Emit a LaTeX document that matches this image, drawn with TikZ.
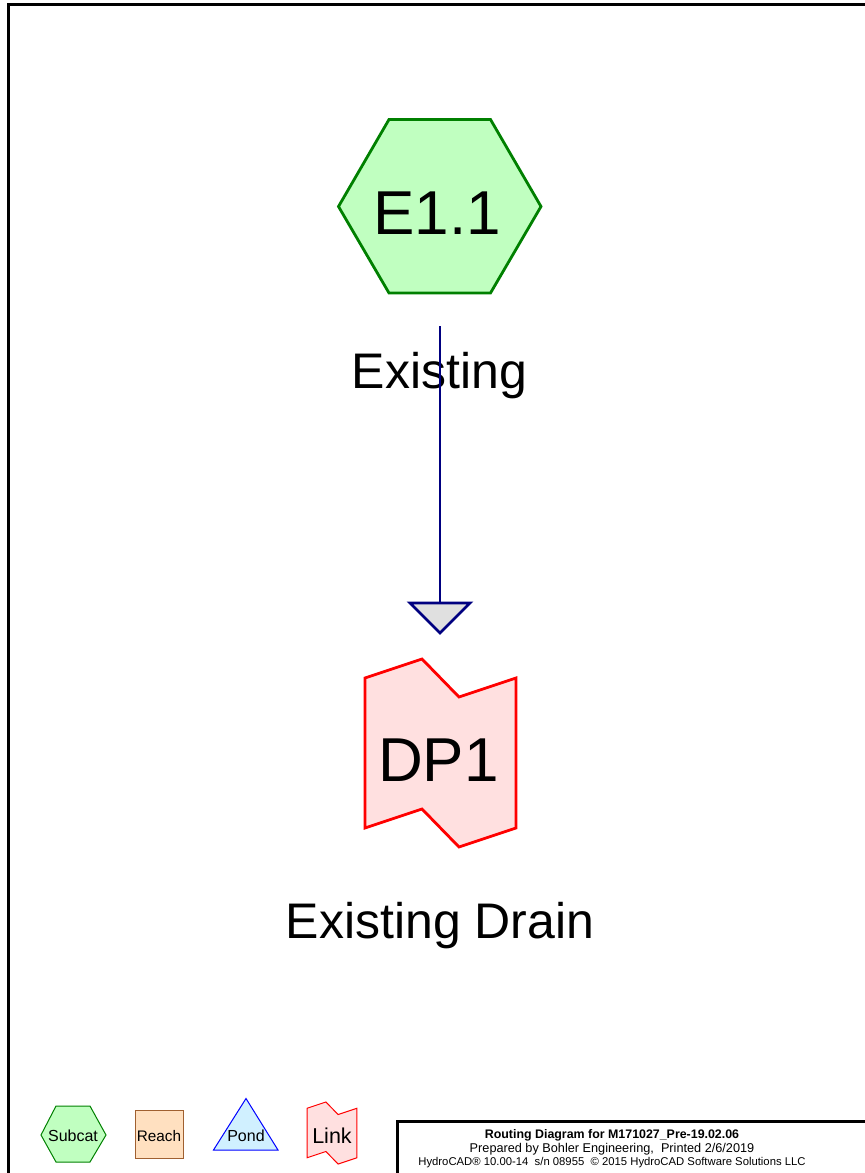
\documentclass[tikz,border=0pt]{standalone}
\usepackage{fontspec}
\setmainfont{Liberation Sans}
\definecolor{subfill}{RGB}{192,255,192}
\definecolor{substroke}{RGB}{0,128,0}
\definecolor{linkfill}{RGB}{255,224,224}
\definecolor{linkstroke}{RGB}{255,0,0}
\definecolor{reachfill}{RGB}{255,224,192}
\definecolor{reachstroke}{RGB}{160,96,48}
\definecolor{pondfill}{RGB}{208,240,255}
\definecolor{pondstroke}{RGB}{0,0,255}
\definecolor{flowline}{RGB}{0,0,128}
\definecolor{tipfill}{RGB}{224,224,224}
\begin{document}
\begin{tikzpicture}[x=1pt,y=-1pt,
  subshape/.style={fill=subfill,draw=substroke,line width=2.8pt,line join=miter},
  linkshape/.style={fill=linkfill,draw=linkstroke,line width=2.8pt},
  flow/.style={draw=flowline,line width=2.8pt},
  tip/.style={fill=tipfill,draw=flowline,line width=2.8pt},
  frame/.style={draw=black,line width=3pt},
  bigtxt/.style={inner sep=0pt,anchor=base,font=\fontsize{62}{62}\selectfont},
  lbltxt/.style={inner sep=0pt,anchor=base,font=\fontsize{50}{50}\selectfont},
  legtxt/.style={inner sep=0pt,anchor=base,font=\fontsize{16}{16}\selectfont},
  titletxt/.style={inner sep=0pt,anchor=base}
]
\useasboundingbox (0,0) rectangle (865,1173);
% outer frame
\draw[frame] (8.5,1175) -- (8.5,4.5) -- (868,4.5);

% subcatchment E1.1
\path[subshape] (338.5,206.5) -- (389,119.5) -- (490.5,119.5) -- (541,206.5) -- (490.5,293) -- (389,293) -- cycle;
\node[bigtxt] (E11) at (437,234) {E1.1};
\node[lbltxt] (E11lbl) at (439.5,388) {Existing};

% flow connector
\coordinate (fstart) at (440,326);
\coordinate (fend) at (440,603);
\draw[flow] (fstart) -- (fend);
\path[tip] (410,603) -- (470,603) -- (440,633) -- cycle;

% link DP1
\path[linkshape] (365,678) -- (422,659) -- (459,697) -- (516,678) -- (516,828) -- (459,847) -- (422,809) -- (365,828) -- cycle;
\node[bigtxt] (DP1) at (438.5,781) {DP1};
\node[lbltxt] (DP1lbl) at (440,938) {Existing Drain};

% legend
\path[fill=subfill,draw=substroke,line width=1pt] (41,1135) -- (56,1106) -- (90,1106) -- (106,1135) -- (90,1162) -- (56,1162) -- cycle;
\node[legtxt] (legsub) at (73,1141) {Subcat};
\path[fill=reachfill,draw=reachstroke,line width=1pt] (135,1110) rectangle (183,1158);
\node[legtxt,font=\fontsize{15.3}{15.3}\selectfont] (legreach) at (159,1141) {Reach};
\path[fill=pondfill,draw=pondstroke,line width=1pt] (246,1098.5) -- (278,1150) -- (213.5,1150) -- cycle;
\node[legtxt] (legpond) at (246,1141) {Pond};
\begin{scope}[shift={(332,1133)},scale=0.33]
\path[fill=linkfill,draw=linkstroke,line width=1pt] (-75.5,-75) -- (-18.5,-94) -- (18.5,-56) -- (75.5,-75) -- (75.5,75) -- (18.5,94) -- (-18.5,56) -- (-75.5,75) -- cycle;
\end{scope}
\node[legtxt,font=\fontsize{21.5}{21.5}\selectfont] (leglink) at (332,1143) {Link};

% title block
\draw[frame] (397.5,1176) -- (397.5,1121.5) -- (868,1121.5);
\node[titletxt,font=\fontsize{12.4}{12.4}\bfseries\selectfont] (t1) at (612,1138) {Routing Diagram for M171027\_Pre-19.02.06};
\node[titletxt,font=\fontsize{12.7}{12.7}\selectfont] (t2) at (612,1152.5) {Prepared by Bohler Engineering,\ \ Printed 2/6/2019};
\node[titletxt,font=\fontsize{11.3}{11.3}\selectfont] (t3) at (612,1165) {HydroCAD® 10.00-14\ \ s/n 08955\ \ © 2015 HydroCAD Software Solutions LLC};
\end{tikzpicture}
\end{document}
